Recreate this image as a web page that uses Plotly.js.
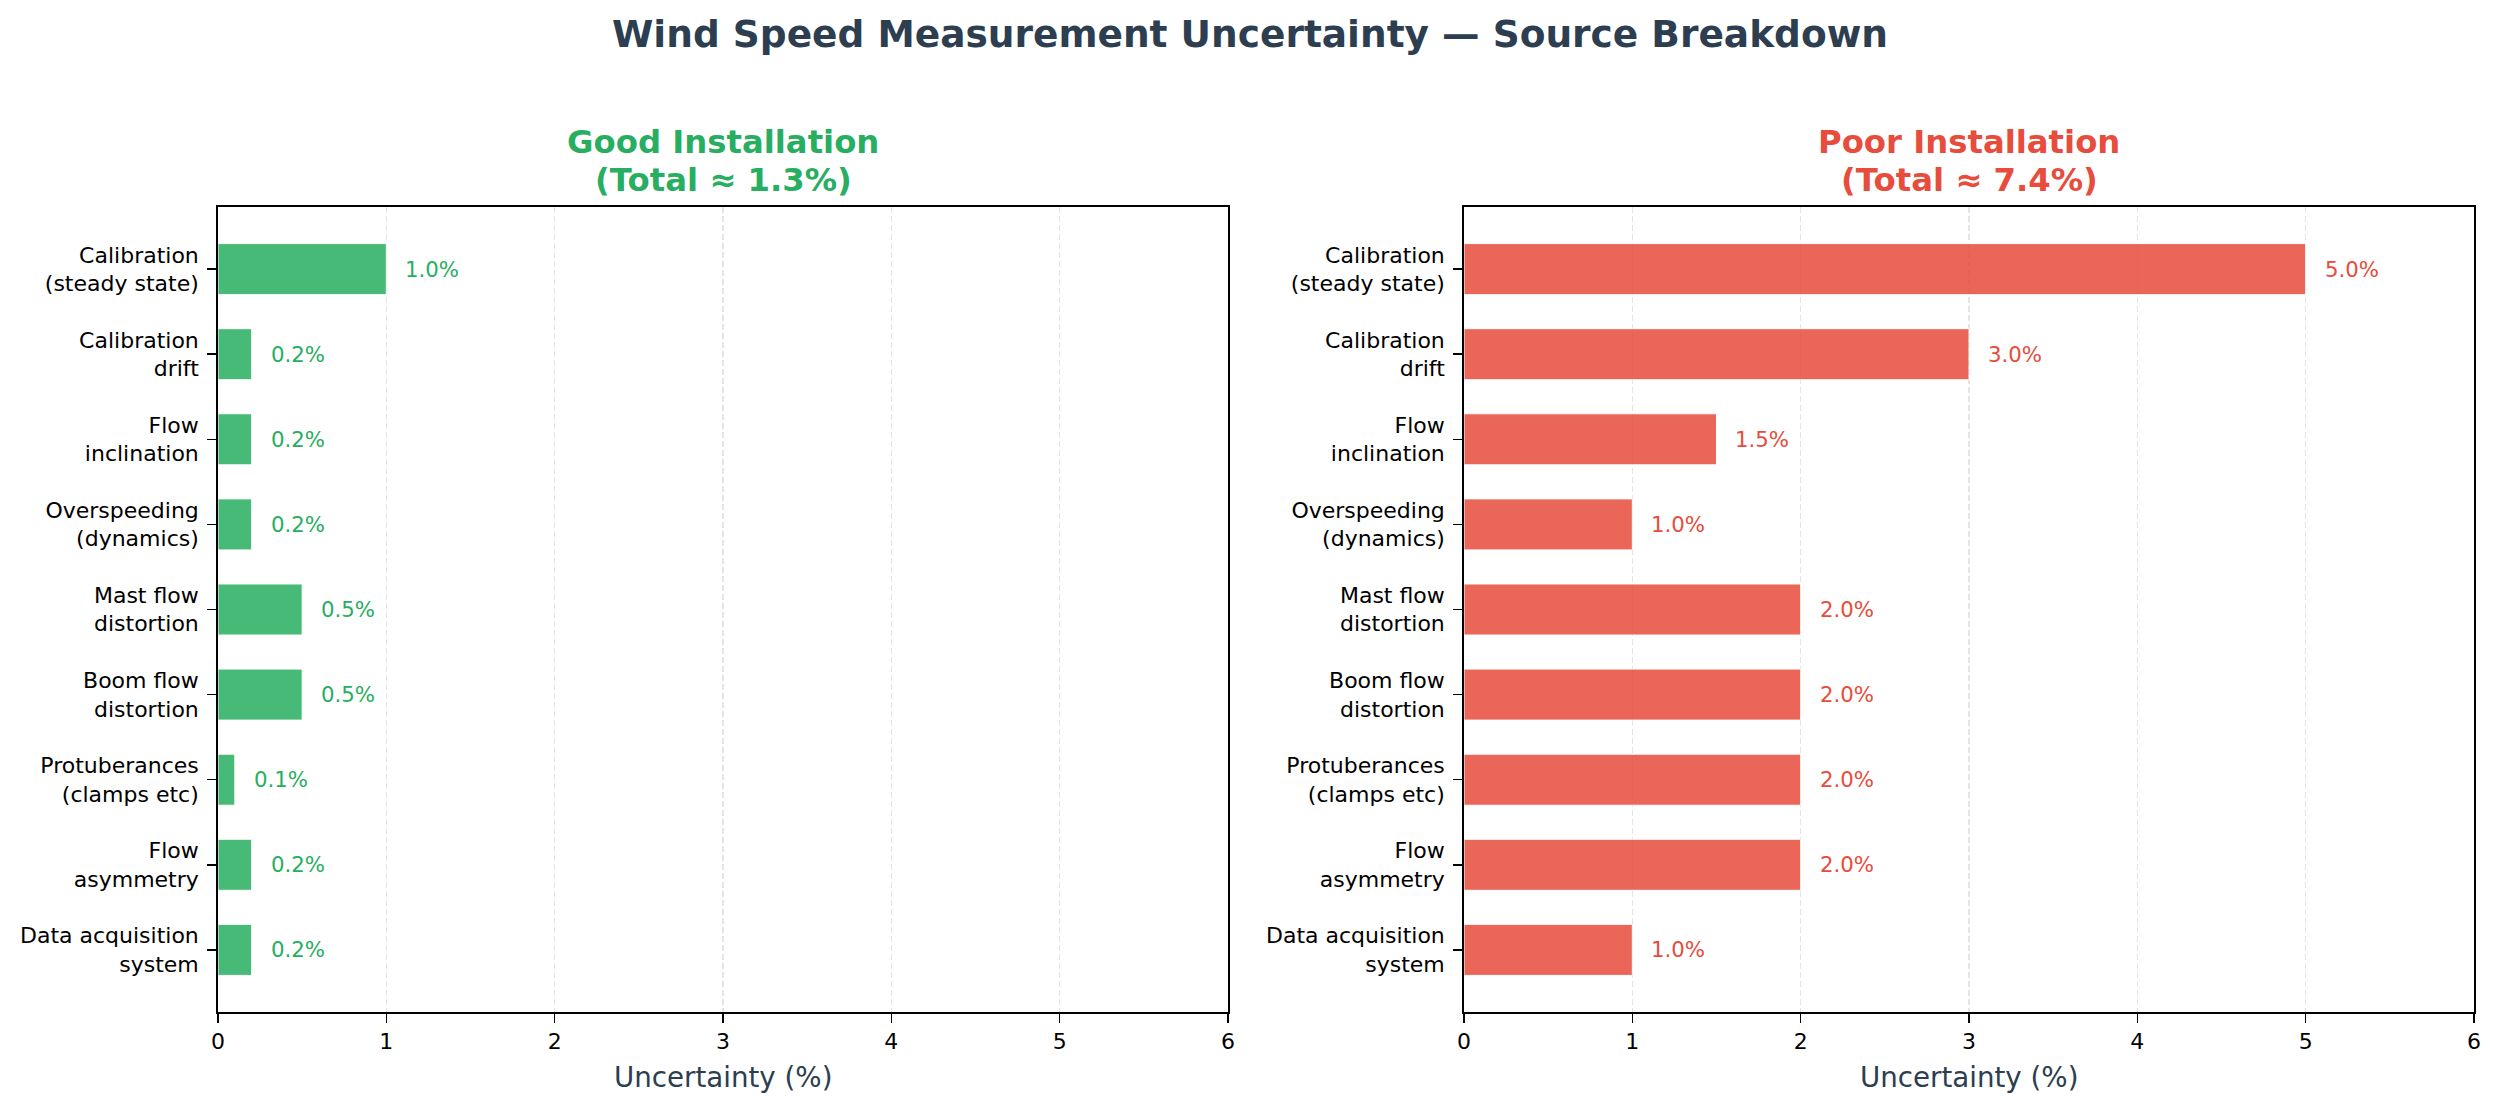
<!DOCTYPE html>
<html>
<head>
<meta charset="utf-8">
<script src="https://cdn.plot.ly/plotly-3.0.1.min.js"></script>
<style>html,body{margin:0;padding:0;background:#fff;}#chart{width:2500px;height:1110px;}</style>
</head>
<body>
<div id="chart"></div>
<script>
// ---- data ----
const categories = [
  "Calibration<br>(steady state)",
  "Calibration<br>drift",
  "Flow<br>inclination",
  "Overspeeding<br>(dynamics)",
  "Mast flow<br>distortion",
  "Boom flow<br>distortion",
  "Protuberances<br>(clamps etc)",
  "Flow<br>asymmetry",
  "Data acquisition<br>system"
];
const goodValues = [1.0, 0.2, 0.2, 0.2, 0.5, 0.5, 0.1, 0.2, 0.2];
const poorValues = [5.0, 3.0, 1.5, 1.0, 2.0, 2.0, 2.0, 2.0, 1.0];
const xTickVals = [0, 1, 2, 3, 4, 5, 6];
const panelNames = ["Good Installation", "Poor Installation"];
const mainTitle = "Wind Speed Measurement Uncertainty — Source Breakdown";
const xTitle = "Uncertainty (%)";

// ---- style ----
const FONT = "DejaVu Sans, Liberation Sans, sans-serif";
const GREEN = "#27ae60", RED = "#e74c3c", DARK = "#2c3e50";

function total(vals){ return Math.sqrt(vals.reduce((s,v)=>s+v*v,0)); }

const traces = [
  {type:'bar', orientation:'h', x:goodValues, y:categories, xaxis:'x', yaxis:'y', width:0.6,
   marker:{color:GREEN, opacity:0.85, line:{color:'white', width:1}}, hoverinfo:'skip', showlegend:false},
  {type:'bar', orientation:'h', x:poorValues, y:categories, xaxis:'x2', yaxis:'y2', width:0.6,
   marker:{color:RED, opacity:0.85, line:{color:'white', width:1}}, hoverinfo:'skip', showlegend:false}
];

const yTop = 1 - 207/1110, yBot = 1 - 1012/1110;
const dom1 = [218/2500, 1228/2500], dom2 = [1464/2500, 2474/2500];

function xax(domain, anchor){
  return {domain:domain, anchor:anchor, range:[0,6], tickvals:xTickVals, ticktext:xTickVals.map(String),
    showgrid:true, gridcolor:'#e4e4e4', gridwidth:1.5, griddash:'6px,3px', zeroline:false,
    showline:true, mirror:true, linecolor:'black', linewidth:1.8,
    ticks:'outside', ticklen:9, tickwidth:1.6, tickcolor:'black',
    tickfont:{family:FONT, size:22, color:'black'}, automargin:false, fixedrange:true};
}
function yax(anchor){
  return {domain:[yBot, yTop], anchor:anchor, type:'category', range:[8.73,-0.73],
    showgrid:false, zeroline:false, showline:true, mirror:true, linecolor:'black', linewidth:1.8,
    ticks:'outside', ticklen:9, tickwidth:1.6, tickcolor:'black', ticklabelstandoff:4,
    tickfont:{family:FONT, size:22, color:'black'}, automargin:false, fixedrange:true};
}

const annotations = [];
const panels = [[goodValues, GREEN, 'x', 'y', dom1], [poorValues, RED, 'x2', 'y2', dom2]];
panels.forEach((p, i) => {
  const [vals, col, xr, yr, dom] = p;
  const cx = (dom[0] + dom[1]) / 2;
  vals.forEach((v, k) => {
    annotations.push({x: v + 0.1, y: categories[k], xref: xr, yref: yr, text: v.toFixed(1) + '%',
      showarrow:false, xanchor:'left', yanchor:'middle', font:{family:FONT, size:21.3, color:col}});
  });
  const titleLines = [panelNames[i], '(Total ≈ ' + total(vals).toFixed(1) + '%)'];
  const lineY = [142, 180];
  titleLines.forEach((t, j) => {
    annotations.push({x:cx, y:1 - lineY[j]/1110, xref:'paper', yref:'paper', text:'<b>' + t + '</b>',
      showarrow:false, xanchor:'center', yanchor:'middle', font:{family:FONT, size:32.3, color:col}});
  });
  annotations.push({x:cx, y:1 - 1077/1110, xref:'paper', yref:'paper', text:xTitle,
    showarrow:false, xanchor:'center', yanchor:'middle', font:{family:FONT, size:27.7, color:DARK}});
});

const layout = {
  width:2500, height:1110, margin:{l:0, r:0, t:0, b:0}, paper_bgcolor:'white', plot_bgcolor:'white',
  title:{text:'<b>' + mainTitle + '</b>', x:0.5, xanchor:'center', xref:'paper', y:1 - 34/1110, yref:'container', yanchor:'middle',
    font:{family:FONT, size:37.5, color:DARK}},
  xaxis: xax(dom1, 'y'), yaxis: yax('x'),
  xaxis2: xax(dom2, 'y2'), yaxis2: yax('x2'),
  bargap:0.4, annotations:annotations, showlegend:false
};

Plotly.newPlot('chart', traces, layout, {staticPlot:true, displayModeBar:false});
</script>
</body>
</html>
